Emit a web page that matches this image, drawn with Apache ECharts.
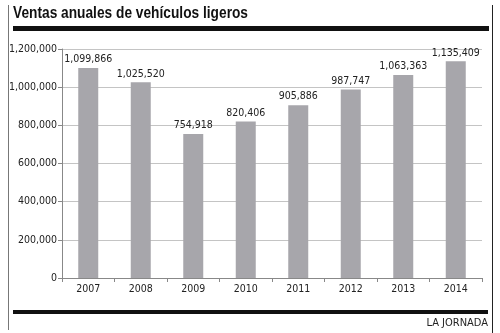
<!DOCTYPE html>
<html>
<head>
<meta charset="utf-8">
<script src="https://cdn.jsdelivr.net/npm/echarts@6/dist/echarts.min.js"></script>
<style>
  html, body { margin: 0; padding: 0; background: #fff; }
  #chart { width: 500px; height: 333px; }
</style>
</head>
<body>
<div id="chart"></div>
<script>
// Annual light-vehicle sales in Mexico
const years = ['2007', '2008', '2009', '2010', '2011', '2012', '2013', '2014'];
const sales = [1099866, 1025520, 754918, 820406, 905886, 987747, 1063363, 1135409];
const yTicks = [0, 200000, 400000, 600000, 800000, 1000000, 1200000];
const titleText = 'Ventas anuales de vehículos ligeros';
const creditText = 'LA JORNADA';

const narrow = "'Liberation Sans Narrow', 'DejaVu Sans Condensed', sans-serif";
const fmt = v => v.toLocaleString('en-US');

// The headline is set in a condensed bold face; squeeze a regular bold face to that width.
const titleFont = "bold 17px 'Liberation Sans', Arial, sans-serif";
const measure = document.createElement('canvas').getContext('2d');
measure.font = titleFont;
const titleScale = 235 / measure.measureText(titleText).width;

const chart = echarts.init(document.getElementById('chart'), null, { renderer: 'canvas' });

chart.setOption({
  animation: false,
  backgroundColor: '#fff',
  grid: { left: 62, right: 18, top: 49, bottom: 55 },
  xAxis: {
    type: 'category',
    data: years,
    axisLine: { lineStyle: { color: '#888', width: 1 } },
    axisTick: { show: true, length: 4, lineStyle: { color: '#888' } },
    axisLabel: { fontFamily: narrow, fontSize: 10.5, color: '#222', margin: 6 }
  },
  yAxis: {
    type: 'value',
    min: yTicks[0],
    max: yTicks[yTicks.length - 1],
    interval: yTicks[1] - yTicks[0],
    axisLine: { show: true, lineStyle: { color: '#888', width: 1 } },
    axisTick: { show: true, length: 4, lineStyle: { color: '#888' } },
    splitLine: { lineStyle: { color: '#c4c4c4', width: 1 } },
    axisLabel: { fontFamily: narrow, fontSize: 10.5, color: '#222', margin: 5, formatter: fmt }
  },
  series: [{
    type: 'bar',
    data: sales,
    barWidth: 20,
    itemStyle: { color: '#a7a6ab' },
    label: {
      show: true, position: 'top', distance: 3,
      fontFamily: narrow, fontSize: 10.5, color: '#222',
      formatter: p => fmt(p.value)
    }
  }],
  graphic: [
    // frame lines
    { type: 'line', shape: { x1: 8.5, y1: 5, x2: 8.5, y2: 330 }, style: { stroke: '#777', lineWidth: 1 } },
    { type: 'line', shape: { x1: 492.5, y1: 5, x2: 492.5, y2: 333 }, style: { stroke: '#222', lineWidth: 1 } },
    // headline
    {
      type: 'text', x: 13, y: 5, scaleX: titleScale, originX: 0, originY: 0,
      style: { text: titleText, font: titleFont, fill: '#111' }
    },
    // heavy rules under the headline and above the credit
    { type: 'rect', shape: { x: 13, y: 26, width: 476, height: 5 }, style: { fill: '#111' } },
    { type: 'rect', shape: { x: 13, y: 310, width: 475, height: 4 }, style: { fill: '#111' } },
    {
      type: 'text', right: 12, top: 318,
      style: { text: creditText, font: "11px " + narrow, fill: '#222' }
    }
  ]
});
</script>
</body>
</html>
